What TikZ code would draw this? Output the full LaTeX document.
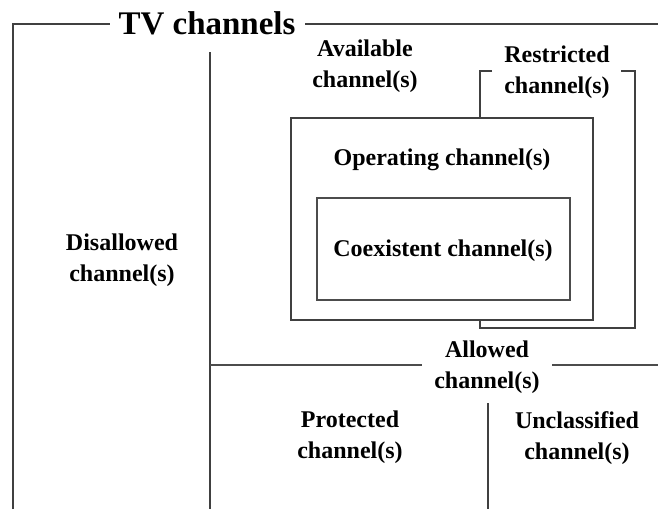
\documentclass[tikz,border=0pt]{standalone}
\usepackage{fontspec}
\setmainfont{Liberation Serif}
\begin{document}
\begin{tikzpicture}[x=1pt,y=-1pt,
  frame/.style={line width=1.6pt,draw=black!75},
  thin/.style={line width=1.3pt,draw=black!70},
  lbl/.style={font=\fontsize{24}{31}\selectfont\bfseries,align=center,inner sep=1pt,text=black},
  title/.style={font=\fontsize{33}{36}\selectfont\bfseries,inner sep=2pt}]
\useasboundingbox (0,0) rectangle (658,509);
% texts
\node[title] (tv) at (207,23) {TV channels};
\node[lbl] (avail) at (365,66) {Available\\channel(s)};
\node[lbl] (restr) at (557,72) {Restricted\\channel(s)};
\node[lbl] (oper) at (442,160) {Operating channel(s)};
\node[lbl] (coex) at (443,251) {Coexistent channel(s)};
\node[lbl] (disal) at (122,260) {Disallowed\\channel(s)};
\node[lbl] (allow) at (487,367) {Allowed\\channel(s)};
\node[lbl] (prot) at (350,437) {Protected\\channel(s)};
\node[lbl] (uncl) at (577,438) {Unclassified\\channel(s)};
% outer frame
\coordinate (tl) at (13,24);
\draw[frame] (13,509) -- (tl) -- (110,24);
\draw[frame] (305,24) -- (658,24);
% divider disallowed / allowed
\draw[frame] (210,52) -- (210,509);
% allowed line
\draw[thin] (210,365) -- (422,365);
\draw[thin] (552,365) -- (658,365);
% protected / unclassified divider
\draw[frame] (488,403) -- (488,509);
% restricted bracket
\draw[frame] (492,71) -- (480,71) -- (480,118);
\draw[frame] (621,71) -- (635,71) -- (635,328) -- (480,328) -- (480,320);
% operating box
\draw[frame] (291,118) rectangle (593,320);
% coexistent box
\draw[thin] (317,198) rectangle (570,300);
\end{tikzpicture}
\end{document}
